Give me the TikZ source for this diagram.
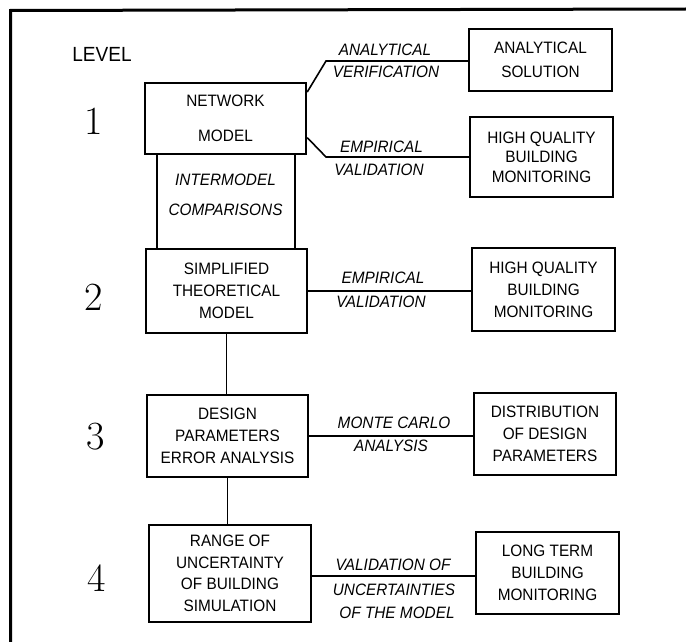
\documentclass[tikz,border=0pt]{standalone}
\usepackage{fontspec}
\setsansfont{Liberation Sans}
\newfontfamily\dfont[FakeStretch=0.93]{Liberation Sans}
\usetikzlibrary{calc}
\tikzset{
  box/.style={draw, line width=2.4pt, inner sep=0pt, align=center,
    font=\dfont\fontsize{16.5}{22}\selectfont},
  lbl/.style={inner sep=0pt, align=center,
    font=\dfont\itshape\fontsize{16.5}{18}\selectfont},
  num/.style={inner sep=0pt, font=\rmfamily\fontsize{40}{40}\selectfont},
  conn/.style={line width=1.6pt},
  frame/.style={line width=3pt}
}
\begin{document}
\begin{tikzpicture}[x=1pt,y=-1pt]
\useasboundingbox[fill=white] (0,0) rectangle (686,642);
% frame
\draw[frame] (10.5,642) -- (10.5,10.5) -- (686,9);

% level labels
\node[inner sep=0pt, font=\dfont\fontsize{20.5}{20}\selectfont] (level) at (102,54) {LEVEL};
\node[num] (n1) at (94,121) {1};
\node[num] (n2) at (94,297) {2};
\node[num] (n3) at (96,437) {3};
\node[num] (n4) at (97,578) {4};

% left column
\node[box, minimum width=161pt, minimum height=71pt] (net) at (225.5,118.5) {NETWORK\\[13pt]MODEL};
\node[draw, line width=2.4pt, minimum width=138pt, minimum height=95pt, inner sep=0pt] (inter) at (226,201.5) {};
\node[lbl, font=\dfont\itshape\fontsize{16.5}{22}\selectfont] (intertxt) at (225.5,195) {INTERMODEL\\[8pt]COMPARISONS};
\node[box, minimum width=161pt, minimum height=84pt] (simp) at (226.5,291) {SIMPLIFIED\\THEORETICAL\\MODEL};
\node[box, minimum width=161pt, minimum height=82pt] (design) at (227.5,436) {DESIGN\\PARAMETERS\\ERROR ANALYSIS};
\node[box, minimum width=162pt, minimum height=97pt, font=\dfont\fontsize{16.5}{21.5}\selectfont] (range) at (230,573.5) {RANGE OF\\UNCERTAINTY\\OF BUILDING\\SIMULATION};

% right column
\node[box, minimum width=143pt, minimum height=62pt, font=\dfont\fontsize{16.5}{24}\selectfont] (anasol) at (540.5,60) {ANALYTICAL\\SOLUTION};
\node[box, minimum width=143pt, minimum height=80pt, font=\dfont\fontsize{16.5}{19.5}\selectfont] (hq1) at (541.5,157) {HIGH QUALITY\\BUILDING\\MONITORING};
\node[box, minimum width=143pt, minimum height=83pt] (hq2) at (543.5,289.5) {HIGH QUALITY\\BUILDING\\MONITORING};
\node[box, minimum width=142pt, minimum height=82pt] (dist) at (545,434) {DISTRIBUTION\\OF DESIGN\\PARAMETERS};
\node[box, minimum width=143pt, minimum height=82pt] (long) at (547.5,573) {LONG TERM\\BUILDING\\MONITORING};

% connectors
\coordinate (k1) at (326,61);
\coordinate (k2) at (326,157);
\coordinate (a1) at ($(net.north east)!0.14!(net.south east)$);
\coordinate (a2) at ($(net.north east)!0.76!(net.south east)$);
\coordinate (r4) at ($(range.east)+(0,2.5)$);
\draw[conn] (a1) -- (k1) -- (k1 -| anasol.west);
\draw[conn] (a2) -- (k2) -- (k2 -| hq1.west);
\draw[conn] (simp.east) -- (simp.east -| hq2.west);
\draw[conn] (design.east) -- (design.east -| dist.west);
\draw[conn] (r4) -- (r4 -| long.west);
\draw[conn] (simp.south) -- (simp.south |- design.north);
\draw[conn] (design.south) -- (design.south |- range.north);

% connector labels
\node[lbl] (l1a) at (385,50) {ANALYTICAL};
\node[lbl] (l1b) at (386,72) {VERIFICATION};
\node[lbl] (l2a) at (381.5,147) {EMPIRICAL};
\node[lbl] (l2b) at (379,170) {VALIDATION};
\node[lbl] (l3a) at (383,278) {EMPIRICAL};
\node[lbl] (l3b) at (381,302) {VALIDATION};
\node[lbl] (l4a) at (394,423) {MONTE CARLO};
\node[lbl] (l4b) at (391,446) {ANALYSIS};
\node[lbl] (l5a) at (393,565) {VALIDATION OF};
\node[lbl] (l5b) at (394,590) {UNCERTAINTIES};
\node[lbl] (l5c) at (397,613) {OF THE MODEL};
\end{tikzpicture}
\end{document}
